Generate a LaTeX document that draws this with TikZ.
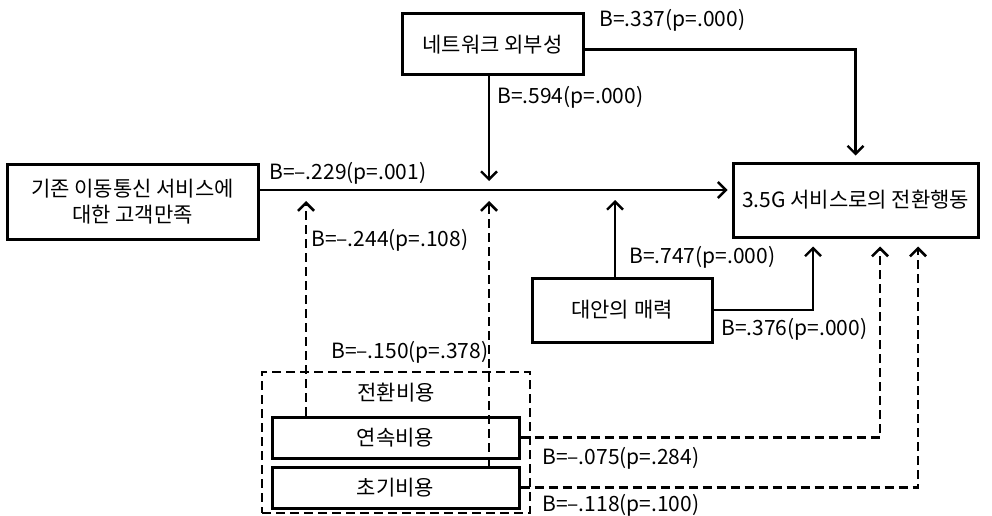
\documentclass[tikz,border=0pt]{standalone}
\usepackage{fontspec}
\setmainfont{Noto Sans CJK KR}
\usetikzlibrary{arrows.meta}

\begin{document}
\begin{tikzpicture}[x=1pt,y=-1pt,>={Straight Barb[length=8pt,width=16pt]},line width=2.4pt,
  every node/.style={font=\fontsize{21}{26}\selectfont},
  varbox/.style={draw,line width=3pt,inner sep=0pt,align=center},
  coef/.style={anchor=west,inner sep=0pt},
  dashline/.style={dash pattern=on 9pt off 5pt,line width=2.6pt}]
\useasboundingbox (0,0) rectangle (992,516);
\node[varbox,minimum width=181pt,minimum height=61pt](net) at (492.5,44.5){네트워크 외부성};
\node[varbox,minimum width=251pt,minimum height=75pt](sat) at (132.5,201.5){기존 이동통신 서비스에\\대한 고객만족};
\node[varbox,minimum width=245pt,minimum height=74pt](beh) at (855.5,200){3.5G 서비스로의 전환행동};
\node[varbox,minimum width=180pt,minimum height=64pt](alt) at (622,310){대안의 매력};
\node[draw,dashline,minimum width=268pt,minimum height=141pt,inner sep=0pt](cost) at (396,442.5){};
\node(costtitle) at (396,393){전환비용};
\node[varbox,minimum width=247pt,minimum height=41pt](cont) at (395.5,437.5){연속비용};
\node[varbox,minimum width=247pt,minimum height=41pt](init) at (395.5,487.5){초기비용};
\coordinate(sE) at ([yshift=11.5pt]sat.east);\coordinate(j1) at (306,190);\coordinate(j2) at (489,190);\coordinate(j3) at (615,190);
\draw[->,shorten >=6pt] ([yshift=-5pt]net.east) -| (beh.north);
\draw[->,shorten >=4pt] (sE) -- (sE -| beh.west);
\draw[->,shorten >=9pt] (net.south -| j2) -- (j2);
\draw[->,shorten >=10pt] (alt.north -| j3) -- (j3);
\draw[->,dashline,shorten >=11pt] (cont.north -| j1) -- (j1);
\draw[->,dashline,shorten >=11pt] (init.north -| j2) -- (j2);
\draw[->,shorten >=8pt] (alt.east) -| ([xshift=-42.5pt]beh.south);
\draw[->,dashline,shorten >=8pt] (cont.east) -| ([xshift=24.5pt]beh.south);
\draw[->,dashline,shorten >=8pt] (init.east) -| ([xshift=62.5pt]beh.south);
\node[coef](c1) at (598,20){B=.337(p=.000)};\node[coef](c2) at (496,97){B=.594(p=.000)};
\node[coef](c3) at (268,173){B=--.229(p=.001)};\node[coef](c4) at (310,240){B=--.244(p=.108)};
\node[coef](c5) at (628,257){B=.747(p=.000)};\node[coef](c6) at (720,329){B=.376(p=.000)};
\node[coef](c7) at (330,352){B=--.150(p=.378)};\node[coef](c8) at (541,458){B=--.075(p=.284)};
\node[coef](c9) at (541,505){B=--.118(p=.100)};
\end{tikzpicture}
\end{document}
